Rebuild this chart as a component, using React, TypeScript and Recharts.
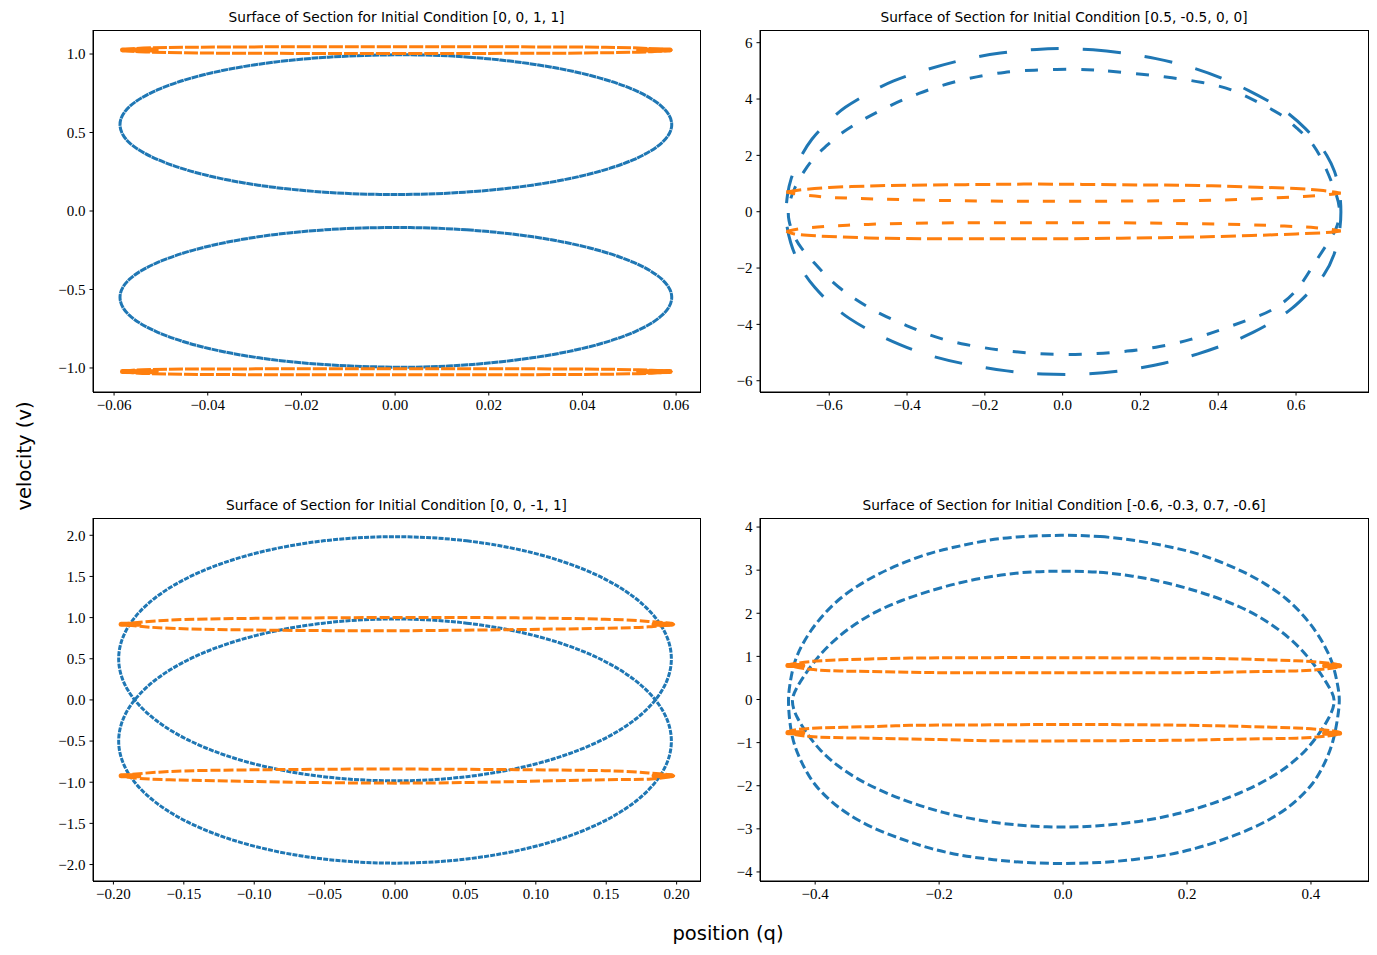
import React from 'react';
import { ScatterChart, Scatter, XAxis, YAxis } from 'recharts';

// ---- data (q, v) ----

// panel 1: IC [0, 0, 1, 1]
const p1BlueUpper: [number, number][] = [
  [0.003, 1.0], [0.0155, 0.985], [0.0298, 0.94], [0.042, 0.868], [0.0515, 0.775], [0.0576, 0.667],
  [0.0598, 0.55], [0.0576, 0.433], [0.0515, 0.325], [0.042, 0.232], [0.0296, 0.16], [0.015, 0.115],
  [0.0, 0.1], [-0.0152, 0.115], [-0.0296, 0.16], [-0.0418, 0.232], [-0.0512, 0.325], [-0.0574, 0.433],
  [-0.0594, 0.55], [-0.0574, 0.667], [-0.0512, 0.775], [-0.0418, 0.868], [-0.0294, 0.94], [-0.0148, 0.985],
];
const p1BlueLower: [number, number][] = [
  [0.0, -0.1], [0.0155, -0.115], [0.0298, -0.16], [0.042, -0.232], [0.0515, -0.325], [0.0576, -0.433],
  [0.0598, -0.55], [0.0576, -0.667], [0.0515, -0.775], [0.042, -0.868], [0.0296, -0.94], [0.015, -0.985],
  [0.003, -1.0], [-0.0148, -0.985], [-0.0294, -0.94], [-0.0418, -0.868], [-0.0512, -0.775], [-0.0574, -0.667],
  [-0.0594, -0.55], [-0.0574, -0.433], [-0.0512, -0.325], [-0.0418, -0.232], [-0.0296, -0.16], [-0.0152, -0.115],
];
const p1OrangeUpper: [number, number][] = [
  [-0.0585, 1.025], [-0.056, 1.034], [-0.052, 1.04], [-0.045, 1.043], [-0.035, 1.045], [-0.02, 1.046],
  [0.0, 1.047], [0.02, 1.046], [0.035, 1.045], [0.045, 1.043], [0.052, 1.038], [0.056, 1.032], [0.059, 1.025],
  [0.056, 1.017], [0.052, 1.012], [0.045, 1.008], [0.035, 1.005], [0.02, 1.004], [0.0, 1.003], [-0.02, 1.004],
  [-0.035, 1.005], [-0.045, 1.008], [-0.052, 1.012], [-0.056, 1.017], [-0.0585, 1.025],
];
const p1OrangeLower: [number, number][] = [
  [-0.0585, -1.023], [-0.056, -1.014], [-0.052, -1.01], [-0.045, -1.007], [-0.035, -1.006], [-0.02, -1.005],
  [0.0, -1.005], [0.02, -1.005], [0.035, -1.006], [0.045, -1.008], [0.052, -1.012], [0.056, -1.016], [0.059, -1.023],
  [0.056, -1.031], [0.052, -1.036], [0.045, -1.04], [0.035, -1.042], [0.02, -1.043], [0.0, -1.043], [-0.02, -1.043],
  [-0.035, -1.042], [-0.045, -1.04], [-0.052, -1.036], [-0.056, -1.03], [-0.0585, -1.023],
];
// dense clusters at the loop ends
const p1OrangeTips: [number, number][][] = [
  [[-0.0582, 1.025], [-0.051, 1.026]],
  [[0.052, 1.026], [0.0587, 1.025]],
  [[-0.0582, -1.023], [-0.051, -1.024]],
  [[0.052, -1.024], [0.0587, -1.023]],
];

// panel 2: IC [0.5, -0.5, 0, 0]
const p2BlueOuter: [number, number][] = [
  [0.0, 5.8], [0.08, 5.76], [0.15, 5.65], [0.24, 5.45], [0.33, 5.15], [0.41, 4.75], [0.48, 4.3], [0.54, 3.85],
  [0.586, 3.45], [0.625, 2.95], [0.655, 2.5], [0.68, 2.0], [0.7, 1.45], [0.712, 0.8], [0.717, 0.0],
  [0.712, -0.8], [0.7, -1.5], [0.675, -2.25], [0.628, -2.95], [0.59, -3.45], [0.548, -3.85], [0.49, -4.3],
  [0.428, -4.67], [0.35, -5.05], [0.26, -5.4], [0.17, -5.62], [0.07, -5.79], [-0.06, -5.77], [-0.14, -5.67],
  [-0.24, -5.45], [-0.34, -5.14], [-0.42, -4.72], [-0.49, -4.27], [-0.55, -3.8], [-0.6, -3.25], [-0.64, -2.65],
  [-0.664, -2.23], [-0.685, -1.65], [-0.7, -1.1], [-0.71, -0.5], [-0.712, 0.0], [-0.708, 0.6], [-0.7, 1.15],
  [-0.68, 1.8], [-0.647, 2.6], [-0.6, 3.23], [-0.563, 3.7], [-0.5, 4.2], [-0.439, 4.65], [-0.35, 5.05],
  [-0.26, 5.4], [-0.16, 5.65], [-0.06, 5.78],
];
const p2BlueInner: [number, number][] = [
  [0.035, 5.07], [0.115, 5.0], [0.205, 4.88], [0.28, 4.76], [0.36, 4.6], [0.435, 4.36], [0.5, 3.9],
  [0.565, 3.45], [0.6, 2.98], [0.647, 2.43], [0.68, 1.45], [0.705, 0.6], [0.715, 0.0], [0.705, -0.6],
  [0.686, -1.02], [0.64, -1.98], [0.605, -2.8], [0.545, -3.5], [0.475, -3.85], [0.405, -4.2], [0.33, -4.55],
  [0.25, -4.8], [0.165, -4.96], [0.085, -5.05], [0.0, -5.08], [-0.085, -5.03], [-0.165, -4.91], [-0.25, -4.73],
  [-0.33, -4.46], [-0.4, -4.05], [-0.47, -3.64], [-0.535, -3.1], [-0.59, -2.55], [-0.64, -1.8], [-0.675, -1.25],
  [-0.69, -0.9], [-0.706, -0.3], [-0.706, 0.2], [-0.69, 0.85], [-0.665, 1.45], [-0.635, 2.0], [-0.61, 2.3],
  [-0.57, 2.8], [-0.51, 3.3], [-0.44, 3.8], [-0.37, 4.21], [-0.295, 4.56], [-0.22, 4.8], [-0.15, 4.96],
  [-0.08, 5.03],
];
const p2OrangeUpperTop: [number, number][] = [
  [-0.71, 0.7], [-0.67, 0.78], [-0.6, 0.86], [-0.5, 0.91], [-0.4, 0.94], [-0.25, 0.96], [-0.1, 0.98],
  [0.05, 0.97], [0.2, 0.95], [0.35, 0.93], [0.5, 0.87], [0.6, 0.82], [0.67, 0.75], [0.715, 0.66],
];
const p2OrangeUpperBottom: [number, number][] = [
  [0.715, 0.66], [0.68, 0.6], [0.62, 0.54], [0.53, 0.48], [0.45, 0.43], [0.35, 0.4], [0.2, 0.38], [0.0, 0.37],
  [-0.2, 0.38], [-0.35, 0.41], [-0.45, 0.44], [-0.55, 0.48], [-0.62, 0.53], [-0.68, 0.62], [-0.71, 0.7],
];
const p2OrangeLowerTop: [number, number][] = [
  [-0.71, -0.7], [-0.66, -0.58], [-0.58, -0.5], [-0.5, -0.45], [-0.38, -0.41], [-0.2, -0.39], [0.0, -0.39],
  [0.2, -0.4], [0.35, -0.43], [0.47, -0.46], [0.57, -0.51], [0.65, -0.57], [0.715, -0.68],
];
const p2OrangeLowerBottom: [number, number][] = [
  [0.715, -0.68], [0.69, -0.73], [0.6, -0.79], [0.45, -0.86], [0.3, -0.91], [0.15, -0.94], [0.0, -0.96],
  [-0.2, -0.96], [-0.35, -0.96], [-0.5, -0.93], [-0.63, -0.86], [-0.69, -0.79], [-0.71, -0.7],
];

// panel 3: IC [0, 0, -1, 1]
const p3BlueUpper: [number, number][] = [
  [0.0, 2.0], [0.0515, 1.949], [0.0995, 1.799], [0.1408, 1.561], [0.1722, 1.25], [0.1918, 0.888], [0.1985, 0.5],
  [0.1918, 0.112], [0.1722, -0.25], [0.1408, -0.561], [0.0995, -0.799], [0.0515, -0.949], [0.0, -1.0],
  [-0.0515, -0.949], [-0.0995, -0.799], [-0.1408, -0.561], [-0.1722, -0.25], [-0.1918, 0.112], [-0.1985, 0.5],
  [-0.1918, 0.888], [-0.1722, 1.25], [-0.1408, 1.561], [-0.0995, 1.799], [-0.0515, 1.949],
];
const p3BlueLower: [number, number][] = [
  [0.0, 1.0], [0.0515, 0.949], [0.0995, 0.799], [0.1408, 0.561], [0.1722, 0.25], [0.1918, -0.112], [0.1985, -0.5],
  [0.1918, -0.888], [0.1722, -1.25], [0.1408, -1.561], [0.0995, -1.799], [0.0515, -1.949], [0.0, -2.0],
  [-0.0515, -1.949], [-0.0995, -1.799], [-0.1408, -1.561], [-0.1722, -1.25], [-0.1918, -0.888], [-0.1985, -0.5],
  [-0.1918, -0.112], [-0.1722, 0.25], [-0.1408, 0.561], [-0.0995, 0.799], [-0.0515, 0.949],
];
const p3OrangeUpper: [number, number][] = [
  [-0.1955, 0.92], [-0.16, 0.97], [-0.104, 0.99], [-0.02, 1.0], [0.064, 1.0], [0.149, 0.98], [0.182, 0.95],
  [0.198, 0.92], [0.182, 0.89], [0.149, 0.87], [0.064, 0.85], [-0.02, 0.84], [-0.104, 0.85], [-0.16, 0.87],
  [-0.185, 0.9], [-0.1955, 0.92],
];
const p3OrangeLower: [number, number][] = [
  [-0.1955, -0.92], [-0.16, -0.87], [-0.104, -0.85], [-0.02, -0.84], [0.064, -0.845], [0.149, -0.86],
  [0.182, -0.89], [0.198, -0.92], [0.182, -0.96], [0.149, -0.97], [0.064, -1.0], [-0.02, -1.01],
  [-0.104, -0.99], [-0.16, -0.97], [-0.185, -0.95], [-0.1955, -0.92],
];
const p3OrangeTips: [number, number][][] = [
  [[-0.1945, 0.92], [-0.182, 0.92]],
  [[0.184, 0.92], [0.1965, 0.92]],
  [[-0.1945, -0.92], [-0.182, -0.92]],
  [[0.184, -0.92], [0.1965, -0.92]],
];

// panel 4: IC [-0.6, -0.3, 0.7, -0.6]
const p4BlueOuter: [number, number][] = [
  [0.0, 3.82], [0.06, 3.79], [0.12, 3.69], [0.177, 3.53], [0.22, 3.38], [0.258, 3.17], [0.295, 2.94],
  [0.327, 2.68], [0.36, 2.36], [0.387, 1.97], [0.408, 1.59], [0.424, 1.2], [0.436, 0.82], [0.443, 0.35],
  [0.447, 0.0], [0.443, -0.45], [0.436, -1.0], [0.422, -1.5], [0.404, -1.96], [0.377, -2.35], [0.35, -2.65],
  [0.311, -2.96], [0.263, -3.23], [0.215, -3.46], [0.166, -3.62], [0.112, -3.72], [0.059, -3.79], [0.0, -3.81],
  [-0.059, -3.79], [-0.112, -3.72], [-0.166, -3.62], [-0.215, -3.46], [-0.263, -3.23], [-0.311, -2.96],
  [-0.349, -2.65], [-0.376, -2.35], [-0.403, -1.96], [-0.421, -1.5], [-0.435, -1.03], [-0.441, -0.57],
  [-0.444, 0.0], [-0.441, 0.35], [-0.435, 0.82], [-0.424, 1.2], [-0.408, 1.59], [-0.387, 1.97], [-0.36, 2.36],
  [-0.327, 2.68], [-0.295, 2.94], [-0.258, 3.17], [-0.22, 3.38], [-0.177, 3.53], [-0.129, 3.68], [-0.08, 3.78],
];
const p4BlueInner: [number, number][] = [
  [0.0, 2.98], [0.059, 2.965], [0.112, 2.87], [0.166, 2.72], [0.22, 2.5], [0.263, 2.29], [0.301, 2.05],
  [0.333, 1.78], [0.365, 1.44], [0.392, 1.05], [0.413, 0.66], [0.43, 0.28], [0.441, -0.03], [0.43, -0.42],
  [0.413, -0.8], [0.392, -1.19], [0.365, -1.53], [0.333, -1.84], [0.29, -2.15], [0.241, -2.42], [0.188, -2.65],
  [0.134, -2.81], [0.08, -2.91], [0.026, -2.96], [-0.026, -2.96], [-0.08, -2.91], [-0.134, -2.81], [-0.188, -2.65],
  [-0.241, -2.42], [-0.29, -2.15], [-0.333, -1.84], [-0.365, -1.53], [-0.392, -1.19], [-0.413, -0.8],
  [-0.43, -0.42], [-0.44, -0.03], [-0.43, 0.28], [-0.413, 0.66], [-0.392, 1.05], [-0.365, 1.44],
  [-0.333, 1.78], [-0.301, 2.05], [-0.263, 2.29], [-0.22, 2.5], [-0.166, 2.72], [-0.112, 2.87], [-0.059, 2.965],
];
const p4OrangeUpper: [number, number][] = [
  [-0.446, 0.8], [-0.408, 0.88], [-0.36, 0.92], [-0.311, 0.94], [-0.247, 0.96], [-0.15, 0.97], [0.0, 0.97],
  [0.15, 0.96], [0.25, 0.95], [0.33, 0.92], [0.4, 0.88], [0.448, 0.78], [0.4, 0.68], [0.33, 0.65], [0.25, 0.63],
  [0.15, 0.62], [0.0, 0.62], [-0.15, 0.62], [-0.247, 0.63], [-0.311, 0.65], [-0.36, 0.66], [-0.408, 0.7],
  [-0.446, 0.8],
];
const p4OrangeLower: [number, number][] = [
  [-0.446, -0.76], [-0.408, -0.67], [-0.311, -0.63], [-0.247, -0.6], [-0.15, -0.59], [0.0, -0.58],
  [0.15, -0.59], [0.25, -0.61], [0.33, -0.64], [0.4, -0.68], [0.448, -0.78], [0.4, -0.88], [0.33, -0.91],
  [0.25, -0.93], [0.15, -0.95], [0.0, -0.96], [-0.1, -0.96], [-0.2, -0.93], [-0.311, -0.9], [-0.408, -0.86],
  [-0.446, -0.76],
];
const p4OrangeTips: [number, number][][] = [
  [[-0.444, 0.79], [-0.42, 0.79]],
  [[0.422, 0.78], [0.446, 0.78]],
  [[-0.444, -0.77], [-0.42, -0.77]],
  [[0.422, -0.78], [0.446, -0.78]],
];

// tick values
const p1XTicks = [-0.06, -0.04, -0.02, 0, 0.02, 0.04, 0.06];
const p1YTicks = [-1.0, -0.5, 0, 0.5, 1.0];
const p2XTicks = [-0.6, -0.4, -0.2, 0, 0.2, 0.4, 0.6];
const p2YTicks = [-6, -4, -2, 0, 2, 4, 6];
const p3XTicks = [-0.2, -0.15, -0.1, -0.05, 0, 0.05, 0.1, 0.15, 0.2];
const p3YTicks = [-2.0, -1.5, -1.0, -0.5, 0, 0.5, 1.0, 1.5, 2.0];
const p4XTicks = [-0.4, -0.2, 0, 0.2, 0.4];
const p4YTicks = [-4, -3, -2, -1, 0, 1, 2, 3, 4];

const titles = [
  'Surface of Section for Initial Condition [0, 0, 1, 1]',
  'Surface of Section for Initial Condition [0.5, -0.5, 0, 0]',
  'Surface of Section for Initial Condition [0, 0, -1, 1]',
  'Surface of Section for Initial Condition [-0.6, -0.3, 0.7, -0.6]',
];

const W = 1377;
const H = 955;
const BLUE = '#1f77b4';
const ORANGE = '#ff7f0e';
const TICK_FONT = { fontFamily: '"Liberation Serif", serif', fontSize: 15, fill: '#000' };

const toPts = (arr: [number, number][]) => arr.map(([q, v]) => ({ q, v }));

const fmt = (d: number) => (val: number) => {
  const s = Math.abs(val).toFixed(d);
  return val < -1e-9 ? '\u2212' + s : s;
};

interface Series {
  data: [number, number][];
  color: string;
  dash?: string;
  width?: number;
  curve: 'basisClosed' | 'natural' | 'linear';
}

interface Panel {
  box: { l: number; t: number; r: number; b: number };
  xDomain: [number, number];
  yDomain: [number, number];
  xTicks: number[];
  yTicks: number[];
  xDec: number;
  yDec: number;
  title: string;
  series: Series[];
}

const tips = (list: [number, number][][]): Series[] =>
  list.map((d) => ({ data: d, color: ORANGE, width: 5, curve: 'linear' }));

const panels: Panel[] = [
  {
    box: { l: 93, t: 30, r: 700, b: 392 },
    xDomain: [-0.0645, 0.0651],
    yDomain: [-1.153, 1.153],
    xTicks: p1XTicks, yTicks: p1YTicks, xDec: 2, yDec: 1,
    title: titles[0],
    series: [
      { data: p1BlueUpper, color: BLUE, dash: '7 0.6', curve: 'basisClosed' },
      { data: p1BlueLower, color: BLUE, dash: '7 0.6', curve: 'basisClosed' },
      { data: p1OrangeUpper, color: ORANGE, dash: '14 2', curve: 'natural' },
      { data: p1OrangeLower, color: ORANGE, dash: '14 2', curve: 'natural' },
      ...tips(p1OrangeTips),
    ],
  },
  {
    box: { l: 760, t: 30, r: 1368, b: 392 },
    xDomain: [-0.778, 0.785],
    yDomain: [-6.4, 6.45],
    xTicks: p2XTicks, yTicks: p2YTicks, xDec: 1, yDec: 0,
    title: titles[1],
    series: [
      { data: p2BlueOuter, color: BLUE, dash: '28 24', curve: 'basisClosed' },
      { data: p2BlueInner, color: BLUE, dash: '13 15', curve: 'basisClosed' },
      { data: p2OrangeUpperTop, color: ORANGE, dash: '15 6', curve: 'natural' },
      { data: p2OrangeUpperBottom, color: ORANGE, dash: '12 14', curve: 'natural' },
      { data: p2OrangeLowerTop, color: ORANGE, dash: '12 14', curve: 'natural' },
      { data: p2OrangeLowerBottom, color: ORANGE, dash: '15 6', curve: 'natural' },
    ],
  },
  {
    box: { l: 93, t: 518, r: 700, b: 881 },
    xDomain: [-0.2145, 0.2166],
    yDomain: [-2.2, 2.21],
    xTicks: p3XTicks, yTicks: p3YTicks, xDec: 2, yDec: 1,
    title: titles[2],
    series: [
      { data: p3BlueUpper, color: BLUE, dash: '5 1.2', curve: 'basisClosed' },
      { data: p3BlueLower, color: BLUE, dash: '5 1.2', curve: 'basisClosed' },
      { data: p3OrangeUpper, color: ORANGE, dash: '10 3', curve: 'natural' },
      { data: p3OrangeLower, color: ORANGE, dash: '10 3', curve: 'natural' },
      ...tips(p3OrangeTips),
    ],
  },
  {
    box: { l: 760, t: 518, r: 1368, b: 881 },
    xDomain: [-0.489, 0.492],
    yDomain: [-4.21, 4.21],
    xTicks: p4XTicks, yTicks: p4YTicks, xDec: 1, yDec: 0,
    title: titles[3],
    series: [
      { data: p4BlueOuter, color: BLUE, dash: '9 4', curve: 'basisClosed' },
      { data: p4BlueInner, color: BLUE, dash: '9 4', curve: 'basisClosed' },
      { data: p4OrangeUpper, color: ORANGE, dash: '10 3', curve: 'natural' },
      { data: p4OrangeLower, color: ORANGE, dash: '10 3', curve: 'natural' },
      ...tips(p4OrangeTips),
    ],
  },
];

const NoDot = () => <g />;

const YW = 60;
const XH = 30;

const PanelChart = ({ p }: { p: Panel }) => (
  <div style={{ position: 'absolute', left: 0, top: 0 }}>
    <ScatterChart
      width={W}
      height={H}
      margin={{ top: p.box.t, left: p.box.l - YW, right: W - p.box.r, bottom: H - p.box.b - XH }}
    >
      <XAxis
        type="number"
        dataKey="q"
        domain={p.xDomain}
        ticks={p.xTicks}
        allowDataOverflow
        interval={0}
        height={XH}
        tickSize={3.5}
        tickMargin={4}
        tickFormatter={fmt(p.xDec)}
        tick={TICK_FONT}
        stroke="#000"
      />
      <YAxis
        type="number"
        dataKey="v"
        domain={p.yDomain}
        ticks={p.yTicks}
        allowDataOverflow
        interval={0}
        width={YW}
        tickSize={3.5}
        tickMargin={4}
        tickFormatter={fmt(p.yDec)}
        tick={TICK_FONT}
        stroke="#000"
      />
      {p.series.map((s, i) => (
        <Scatter
          key={i}
          data={toPts(s.data)}
          fill={s.color}
          shape={NoDot}
          line={{
            stroke: s.color,
            strokeWidth: s.width ?? 3,
            strokeDasharray: s.dash,
            strokeLinecap: s.width ? 'round' : 'butt',
          }}
          lineJointType={s.curve}
          isAnimationActive={false}
        />
      ))}
    </ScatterChart>
  </div>
);

export default function App() {
  return (
    <div style={{ position: 'relative', width: W, height: H, background: '#fff' }}>
      <style>{'body{margin:0}'}</style>
      {panels.map((p, i) => (
        <PanelChart key={i} p={p} />
      ))}
      <svg width={W} height={H} style={{ position: 'absolute', left: 0, top: 0, pointerEvents: 'none' }}>
        {panels.map((p, i) => (
          <g key={i}>
            <rect
              x={p.box.l}
              y={p.box.t}
              width={p.box.r - p.box.l}
              height={p.box.b - p.box.t}
              fill="none"
              stroke="#000"
              strokeWidth={1}
              shapeRendering="crispEdges"
            />
            <text
              x={(p.box.l + p.box.r) / 2}
              y={p.box.t - 8}
              textAnchor="middle"
              fontFamily='"DejaVu Sans", sans-serif'
              fontSize={13.7}
              fill="#000"
            >
              {p.title}
            </text>
          </g>
        ))}
        <text
          x={728}
          y={940}
          textAnchor="middle"
          fontFamily='"DejaVu Sans", sans-serif'
          fontSize={19.5}
          fill="#000"
        >
          position (q)
        </text>
        <text
          transform="translate(31, 456) rotate(-90)"
          textAnchor="middle"
          fontFamily='"DejaVu Sans", sans-serif'
          fontSize={19.5}
          fill="#000"
        >
          velocity (v)
        </text>
      </svg>
    </div>
  );
}
